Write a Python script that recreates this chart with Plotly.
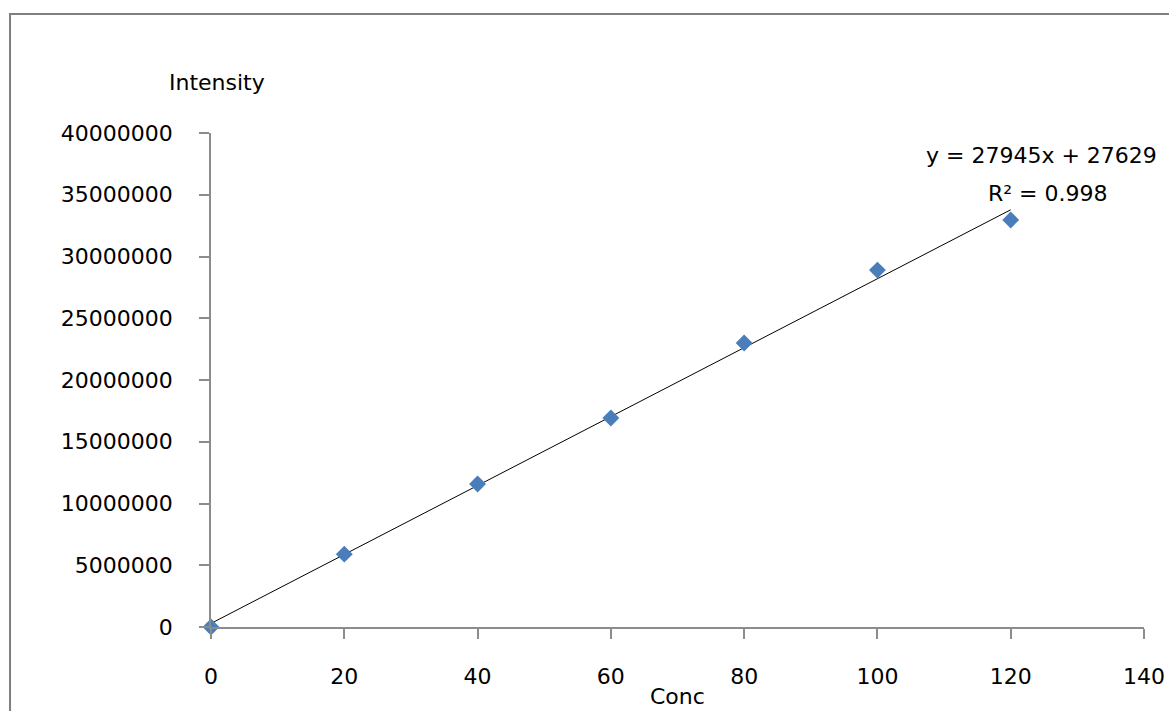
import numpy as np
import plotly.graph_objects as go

# Calibration data
conc = [0, 20, 40, 60, 80, 100, 120]
intensity = [0, 5900000, 11580000, 16920000, 23000000, 28900000, 32960000]

x_ticks = [0, 20, 40, 60, 80, 100, 120, 140]
y_ticks = [0, 5000000, 10000000, 15000000, 20000000, 25000000, 30000000, 35000000, 40000000]

equation_text = "y = 27945x + 27629"
r2_text = "R² = 0.998"

# Least-squares trendline over the measured range
slope, intercept = np.polyfit(conc, intensity, 1)
fit_x = [min(conc), max(conc)]
fit_y = [slope * v + intercept for v in fit_x]

FONT = "DejaVu Sans"
FS = 22
AXIS_GREY = "#8c8c8c"

fig = go.Figure()

fig.add_trace(go.Scatter(
    x=fit_x, y=fit_y, mode="lines",
    line=dict(color="#000000", width=1),
    hoverinfo="skip", showlegend=False,
))

fig.add_trace(go.Scatter(
    x=conc, y=intensity, mode="markers",
    marker=dict(symbol="diamond", size=13, color="#4a7ebb",
                line=dict(width=0)),
    cliponaxis=False, showlegend=False,
))

fig.update_layout(
    width=1169, height=711,
    margin=dict(l=211, r=25, t=133, b=84, autoexpand=False),
    paper_bgcolor="white", plot_bgcolor="white",
    font=dict(family=FONT, size=FS, color="#000000"),
    xaxis=dict(
        range=[0, 140], tickvals=x_ticks, ticktext=[str(v) for v in x_ticks],
        showgrid=False, zeroline=False, automargin=False,
        showline=True, linecolor=AXIS_GREY, linewidth=1.5,
        ticks="outside", ticklen=10, tickcolor=AXIS_GREY, tickwidth=1.5,
        tickfont=dict(family=FONT, size=FS),
        ticklabelstandoff=19,
    ),
    yaxis=dict(
        range=[0, 40000000], tickvals=y_ticks, tickformat="d",
        showgrid=False, zeroline=False, automargin=False,
        showline=True, linecolor=AXIS_GREY, linewidth=1.5,
        ticks="outside", ticklen=10, tickcolor=AXIS_GREY, tickwidth=1.5,
        tickfont=dict(family=FONT, size=FS),
        ticklabelstandoff=22,
    ),
    shapes=[
        # chart-area frame
        dict(type="rect", xref="paper", yref="paper",
             x0=-0.2154, x1=1.2, y0=-0.3, y1=1.2409,
             line=dict(color="#7f7f7f", width=2), layer="below"),
    ],
    annotations=[
        dict(text="Intensity", xref="paper", yref="paper",
             x=-0.047, y=1.1025, xanchor="left", yanchor="middle",
             showarrow=False, font=dict(family=FONT, size=FS)),
        dict(text="Conc", xref="paper", yref="paper",
             x=0.5, y=-0.1417, xanchor="center", yanchor="middle",
             showarrow=False, font=dict(family=FONT, size=FS)),
        dict(text=equation_text, xref="x", yref="y",
             x=107.0, y=38200000, xanchor="left", yanchor="middle",
             showarrow=False, font=dict(family=FONT, size=FS)),
        dict(text=r2_text, xref="x", yref="y",
             x=125.6, y=35140000, xanchor="center", yanchor="middle",
             showarrow=False, font=dict(family=FONT, size=FS)),
    ],
)

fig.write_html("out.html")
